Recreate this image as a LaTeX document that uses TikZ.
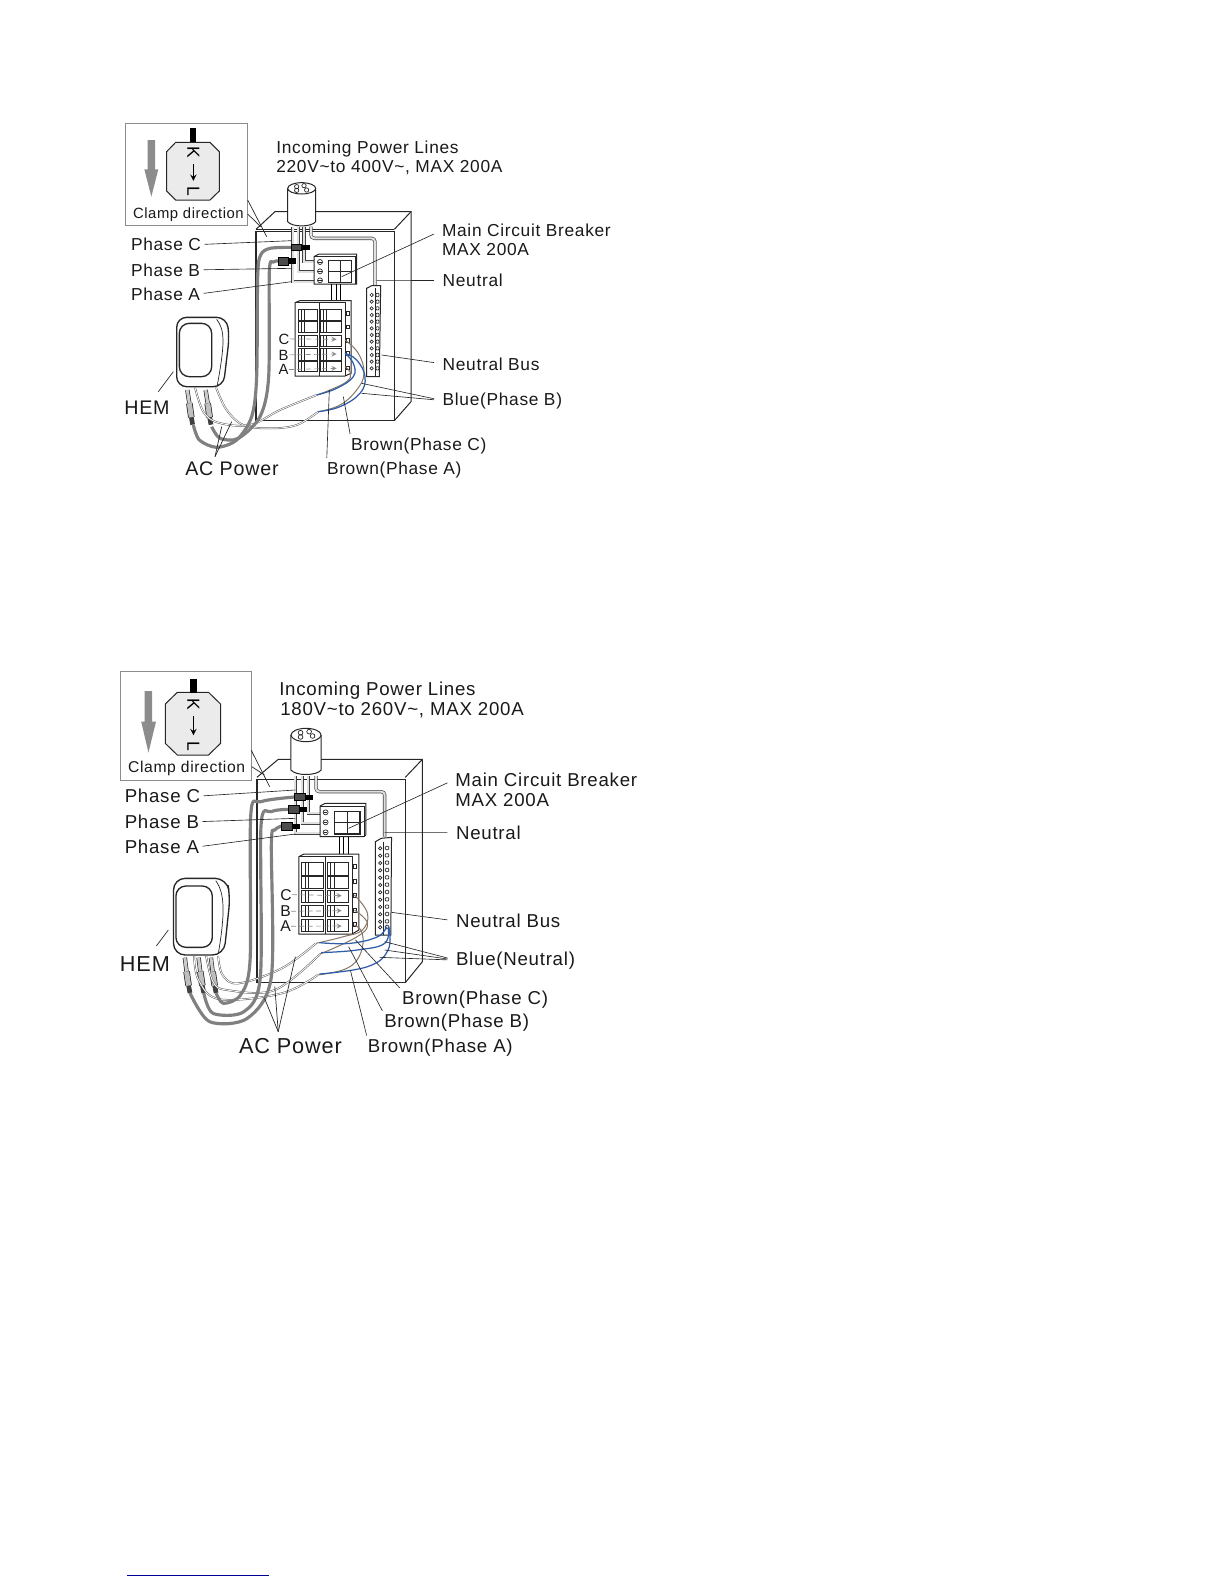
\documentclass[tikz,border=0pt]{standalone}
\usepackage{fontspec}
\setmainfont[LetterSpace=4]{Liberation Sans}
\definecolor{phaseblue}{HTML}{2F5DA8}
\definecolor{phasebrown}{HTML}{857565}
\begin{document}
\begin{tikzpicture}
    \tikzstyle{part} = [draw = black!85, line width = 0.6pt, fill = white]
    \tikzstyle{thin} = [draw = black!85, line width = 0.42pt]
    \tikzstyle{lab} = [anchor = base west, inner sep = 0, font = \fontsize{10.4}{12}\selectfont, text = black!90]
    \tikzstyle{big} = [lab, font = \fontsize{11.8}{14}\selectfont]
    \tikzstyle{small} = [lab, font = \fontsize{8.9}{11}\selectfont]
    \tikzstyle{labb} = [lab, font = \fontsize{11.2}{13}\selectfont]
    \tikzstyle{bigb} = [lab, font = \fontsize{13}{15}\selectfont]
    \tikzstyle{smallb} = [lab, font = \fontsize{9.4}{11}\selectfont]
    \tikzstyle{letter} = [rotate = -90, font = \fontsize{10.5}{12}\selectfont]
    \tikzstyle{leader} = [draw = black!85, line width = 0.38pt, shorten < = 2pt]
    \tikzstyle{leaderr} = [leader, shorten < = 5pt]
    \tikzstyle{wire} = [draw = black!75, double = black!12, line width = 0.4pt, double distance = 1.2pt]
    \tikzstyle{cable} = [draw = black!50, line width = 1.9pt, line join = round]
    \tikzstyle{sensor} = [draw = black!65, double = white, line width = 0.3pt, double distance = 0.5pt]
    \tikzstyle{blueline} = [draw = phaseblue, line width = 0.75pt]
    \tikzstyle{brownline} = [draw = phasebrown, line width = 0.6pt]
    \tikzstyle{plug} = [draw = black!85, double = black!20, line width = 0.4pt, double distance = 1.8pt]
    \tikzstyle{bead} = [draw = black!85, double = black!25, line width = 0.45pt, double distance = 3pt]
    \tikzstyle{tip} = [draw = black!75, line width = 2.8pt]
    \tikzstyle{clamp} = [draw = black, fill = black!70, line width = 0.4pt]
    \tikzstyle{dasharrow} = [draw = black!45, line width = 0.4pt, densely dashed, ->, >= stealth]
    \useasboundingbox (0,0) rectangle (734.4pt,-950.4pt);

    \begin{scope}[shift = {(66pt,-66pt)}, x = 0.2pt, y = -0.2pt]
    \draw[draw = black!45, line width = 0.5pt] (46,40) rectangle (413,346);
    \fill[black!45] (113,90)--(135,90)--(135,178)--(145,178)--(124,260)--(103,178)--(113,178)--cycle;
    \draw[part, fill = black!8] (170,125)--(197,97)--(300,97)--(328,125)--(328,243)--(300,270)--(197,270)--(170,243)--cycle;
    \fill[black] (241,54) rectangle (258,97);
    \node[letter](topK) at (250,128){K};
    \node[letter](topL) at (250,245){L};
    \draw[line width = 0.7pt, ->, >= stealth] (topK.east)--(topL.west);
    \node[small](topclamp) at (68,325){Clamp direction};
    \coordinate (topin1) at (413,270);
    \coordinate (topin2) at (470,380);
    \coordinate (topin3) at (413,312);
    \coordinate (topin4) at (452,350);
    \draw[thin] (topin1)--(topin2);
    \draw[thin] (topin3)--(topin4);

    \draw[part, fill = none] (438,358)--(495,305)--(903,305)--(903,875)--(853,932);
    \draw[part] (853,358)--(903,305);
    \draw[part, fill = none, line width = 0.8pt] (438,365) rectangle (853,932);
    \draw[thin] (438,358)--(853,358);
    \draw[part] (533,235)--(533,335) .. controls (545,352) and (605,352) .. (617,335)--(617,235);
    \draw[part] (575,235) ellipse (8.4pt and 3.4pt);
    \foreach \hx/\hy in {560/230,582/227,560/241,590/240} {
        \draw[thin] (\hx,\hy) circle (1.3pt);
    }

    \draw[wire] (548,350)--(548,515)--(612,515);
    \draw[wire] (565,350)--(565,485)--(612,485);
    \draw[wire] (582,350)--(582,455)--(612,455);
    \draw[wire, rounded corners = 2pt] (603,350)--(603,385)--(795,385)--(795,528);

    \draw[part] (612,440)--(627,432)--(740,432)--(740,522)--(612,522)--cycle;
    \draw[thin] (612,440)--(735,440)--(735,522);
    \draw[part, line width = 0.7pt] (655,452) rectangle (725,517);
    \draw[thin] (690,452)--(690,517);
    \draw[thin] (655,485)--(725,485);
    \foreach \sy in {456,484,511} {
        \draw[thin] (630,\sy) circle (1.5pt);
        \draw[thin] (625,\sy)--(635,\sy);
    }
    \draw[line width = 0.6pt] (665,522)--(665,578) (678,522)--(678,578) (692,522)--(692,578);

    \draw[part] (555,578)--(570,572)--(723,572)--(723,790)--(705,798)--(555,798)--cycle;
    \draw[thin] (555,578)--(705,578)--(705,798);
    \draw[thin] (627,578)--(627,798);
    \foreach \yt/\yb in {598/632,635/668,675/708,715/750,755/785} {
        \draw[thin] (565,\yt) rectangle (622,\yb);
        \draw[thin] (632,\yt) rectangle (695,\yb);
        \draw[thin] (573,\yt)--(573,\yb) (583,\yt)--(583,\yb);
        \draw[thin] (640,\yt)--(640,\yb) (650,\yt)--(650,\yb);
    }
    \foreach \ty in {605,645,685,725,768} {
        \draw[thin] (708,\ty) rectangle +(9,11);
    }

    \draw[part] (770,535)--(785,527)--(812,527)--(808,800)--(770,800)--cycle;
    \draw[thin] (795,535)--(795,800);
    \foreach \by in {555,575,595,615,635,655,675,695,715,735,755,775} {
        \draw[thin] (785,\by) circle (1pt);
        \draw[thin, rounded corners = 0.5pt] (798,{\by-5}) rectangle +(9,10);
    }

    \draw[part, line width = 0.8pt, rounded corners = 6pt] (200,622)--(350,622)--(358,680)--(340,830)--(200,830)--cycle;
    \draw[part, line width = 0.8pt, rounded corners = 6pt] (208,640)--(305,640)--(305,800)--(208,800)--cycle;
    \draw[thin] (320,628) .. controls (345,660) and (345,700) .. (322,825);
    \foreach \px/\py in {232/840,287/840} {
        \draw[plug] (\px,\py)--++(6,40);
        \draw[bead] (\px,\py) ++(6,40)--++(6,42);
        \draw[tip] (\px,\py) ++(12,82)--++(4,22);
    }

    \draw[sensor] plot[smooth, tension = 0.6] coordinates {(318,832) (350,900) (400,945) (480,955) (560,945) (625,905)};
    \draw[sensor] plot[smooth, tension = 0.6] coordinates {(255,832) (280,905) (325,938) (420,945) (510,900) (620,855)};
    \draw[brownline] plot[smooth, tension = 0.7] coordinates {(705,690) (745,730) (762,790) (740,840) (690,885) (625,905)};
    \draw[brownline] plot[smooth, tension = 0.7] coordinates {(705,770) (722,790) (710,815) (660,840) (620,855)};
    \draw[blueline] plot[smooth, tension = 0.7] coordinates {(620,855) (680,835) (730,800) (730,760) (705,730)};
    \draw[blueline] plot[smooth, tension = 0.7] coordinates {(625,905) (690,890) (750,850) (765,800) (740,750) (705,730)};
    \draw[cable] plot[smooth, tension = 0.5] coordinates {(545,412) (480,415) (452,435) (443,500) (440,800) (425,920) (380,990) (320,1012) (268,990) (250,945)};
    \draw[cable] plot[smooth, tension = 0.5] coordinates {(505,453) (490,456) (478,485) (476,800) (450,920) (385,985) (330,985) (305,950)};
    \draw[clamp] (545,402) rectangle (575,422);
    \draw[clamp, fill = black] (575,405) rectangle (597,418);
    \draw[clamp] (505,442) rectangle (535,465);
    \draw[clamp, fill = black] (535,446) rectangle (555,460);

    \node[lab](topinc) at (498,130){Incoming Power Lines};
    \node[lab](topvolt) at (498,188){220V\textasciitilde to 400V\textasciitilde, MAX 200A};
    \node[lab](topmcb) at (995,380){Main Circuit Breaker};
    \node[lab](topmax) at (995,437){MAX 200A};
    \node[lab](topneu) at (997,530){Neutral};
    \node[lab](topbus) at (997,780){Neutral Bus};
    \node[lab](topblue) at (997,885){Blue(Phase B)};
    \node[lab](topbrc) at (722,1020){Brown(Phase C)};
    \node[lab](topbra) at (650,1092){Brown(Phase A)};
    \node[lab](topphc) at (62,422){Phase C};
    \node[lab](topphb) at (62,498){Phase B};
    \node[lab](toppha) at (62,570){Phase A};
    \node[big](tophem) at (42,912){HEM};
    \node[big](topac) at (225,1097){AC Power};
    \node[small](toplc) at (505,702){C};
    \node[small](toplb) at (505,750){B};
    \node[small](topla) at (505,794){A};

    \coordinate (tophc) at (545,392);
    \coordinate (tophb) at (545,475);
    \coordinate (topha) at (545,515);
    \coordinate (topm) at (695,500);
    \coordinate (topn) at (800,512);
    \coordinate (topnb) at (815,735);
    \coordinate (topb1) at (755,820);
    \coordinate (topb2) at (755,850);
    \coordinate (topc) at (700,860);
    \coordinate (topa) at (658,840);
    \coordinate (topac0) at (315,1040);
    \coordinate (topac1) at (365,935);
    \coordinate (topac2) at (335,950);
    \coordinate (toph0) at (145,845);
    \coordinate (toph) at (190,785);
    \coordinate (toplc2) at (680,688);
    \coordinate (toplb2) at (680,732);
    \coordinate (topla2) at (680,775);
    \draw[leader] (topphc.east)--(tophc);
    \draw[leader] (topphb.east)--(tophb);
    \draw[leader] (toppha.east)--(topha);
    \draw[leaderr] (topmcb.west)--(topm);
    \draw[leaderr] (topneu.west)--(topn);
    \draw[leaderr] (topbus.west)--(topnb);
    \draw[leaderr] (topblue.west)--(topb1);
    \draw[leaderr] (topblue.west)--(topb2);
    \draw[leader] (topbrc.north west)--(topc);
    \draw[leader] (topbra.north west)--(topa);
    \draw[thin] (topac0)--(topac1);
    \draw[thin] (topac0)--(topac2);
    \draw[thin] (toph0)--(toph);
    \draw[dasharrow] (toplc.east)--(toplc2);
    \draw[dasharrow] (toplb.east)--(toplb2);
    \draw[dasharrow] (topla.east)--(topla2);
    \end{scope}

    \begin{scope}[shift = {(66pt,-396pt)}, x = 0.206pt, y = -0.2pt]
    \draw[draw = black!45, line width = 0.5pt] (30,35) rectangle (411,361);
    \fill[black!45] (101,93)--(123,93)--(123,185)--(134,185)--(112,278)--(91,185)--(101,185)--cycle;
    \draw[part, fill = black!8] (161,132)--(196,97)--(287,97)--(322,132)--(322,250)--(287,285)--(196,285)--(161,250)--cycle;
    \fill[black] (232,57) rectangle (253,100);
    \node[letter](botK) at (243,132){K};
    \node[letter](botL) at (243,258){L};
    \draw[line width = 0.7pt, ->, >= stealth] (botK.east)--(botL.west);
    \node[smallb](botclamp) at (52,336){Clamp direction};
    \coordinate (botin1) at (411,270);
    \coordinate (botin2) at (465,380);
    \coordinate (botin3) at (413,320);
    \coordinate (botin4) at (450,345);
    \draw[thin] (botin1)--(botin2);
    \draw[thin] (botin3)--(botin4);

    \draw[part, fill = none] (428,352)--(490,298)--(910,298)--(910,905)--(860,968);
    \draw[part] (860,352)--(910,298);
    \draw[part, fill = none, line width = 0.8pt] (428,358) rectangle (860,968);
    \draw[part] (527,225)--(527,330) .. controls (540,348) and (602,348) .. (615,330)--(615,225);
    \draw[part] (571,225) ellipse (9pt and 4pt);
    \foreach \hx/\hy in {555/218,580/215,555/231,590/228} {
        \draw[thin] (\hx,\hy) circle (1.4pt);
    }

    \draw[wire] (540,348)--(540,520)--(612,520);
    \draw[wire] (560,348)--(560,490)--(612,490);
    \draw[wire] (578,348)--(578,460)--(612,460);
    \draw[wire, rounded corners = 2pt] (600,348)--(600,395)--(800,395)--(800,530);

    \draw[part] (612,438)--(627,430)--(745,430)--(745,525)--(740,530)--(612,530)--cycle;
    \draw[thin] (612,438)--(740,438)--(740,530);
    \draw[part, line width = 0.7pt] (655,455) rectangle (728,522);
    \draw[thin] (692,455)--(692,522);
    \draw[thin] (655,488)--(728,488);
    \foreach \sy in {457,487,517} {
        \draw[thin] (628,\sy) circle (1.5pt);
        \draw[thin] (623,\sy)--(633,\sy);
    }
    \draw[line width = 0.6pt] (668,530)--(668,582) (681,530)--(681,582) (695,530)--(695,582);

    \draw[part] (550,590)--(565,582)--(725,582)--(725,810)--(705,822)--(550,822)--cycle;
    \draw[thin] (550,590)--(705,590)--(705,822);
    \draw[thin] (626,590)--(626,822);
    \foreach \yt/\yb in {607/645,650/685,692/727,735/770,778/815} {
        \draw[thin] (558,\yt) rectangle (620,\yb);
        \draw[thin] (633,\yt) rectangle (695,\yb);
        \draw[thin] (568,\yt)--(568,\yb) (578,\yt)--(578,\yb);
        \draw[thin] (642,\yt)--(642,\yb) (652,\yt)--(652,\yb);
    }
    \foreach \ty in {612,658,700,745,788} {
        \draw[thin] (708,\ty) rectangle +(9,12);
    }

    \draw[part] (773,545)--(790,535)--(820,532)--(818,825)--(773,825)--cycle;
    \draw[thin] (797,545)--(797,825);
    \foreach \by in {565,587,609,631,653,675,697,719,741,763,785,802} {
        \draw[thin] (787,\by) circle (1pt);
        \draw[thin, rounded corners = 0.5pt] (802,{\by-6}) rectangle +(10,10);
    }

    \draw[part, line width = 0.8pt, rounded corners = 7pt] (185,655)--(340,655)--(350,710)--(332,885)--(185,885)--cycle;
    \draw[part, line width = 0.8pt, rounded corners = 6pt] (192,678)--(298,678)--(298,862)--(192,862)--cycle;
    \draw[thin] (308,662) .. controls (335,700) and (335,760) .. (316,878);
    \foreach \px/\py in {218/893,258/893,294/893} {
        \draw[plug] (\px,\py)--++(5,42);
        \draw[bead] (\px,\py) ++(5,42)--++(6,42);
        \draw[tip] (\px,\py) ++(11,84)--++(4,22);
    }

    \draw[sensor] plot[smooth, tension = 0.6] coordinates {(315,888) (328,945) (375,970) (500,925) (600,850)};
    \draw[sensor] plot[smooth, tension = 0.6] coordinates {(280,888) (300,965) (340,990) (480,990) (612,882)};
    \draw[sensor] plot[smooth, tension = 0.6] coordinates {(245,888) (258,960) (320,1018) (500,1000) (605,945)};
    \draw[brownline] plot[smooth, tension = 0.7] coordinates {(712,705) (750,760) (735,810) (680,830) (600,850)};
    \draw[brownline] plot[smooth, tension = 0.7] coordinates {(712,750) (750,790) (720,830) (612,882)};
    \draw[brownline] plot[smooth, tension = 0.7] coordinates {(712,795) (735,820) (730,880) (690,925) (605,945)};
    \draw[blueline] plot[smooth, tension = 0.7] coordinates {(610,848) (700,850) (780,830) (805,800)};
    \draw[blueline] plot[smooth, tension = 0.7] coordinates {(615,878) (720,870) (800,850) (810,800)};
    \draw[blueline] plot[smooth, tension = 0.7] coordinates {(610,942) (750,920) (810,870) (812,800)};
    \draw[cable] plot[smooth, tension = 0.5] coordinates {(538,411) (440,425) (410,465) (408,900) (380,1005) (330,1030) (309,999)};
    \draw[cable] plot[smooth, tension = 0.5] coordinates {(520,448) (470,455) (440,495) (438,950) (390,1055) (300,1060) (273,999)};
    \draw[cable] plot[smooth, tension = 0.5] coordinates {(500,498) (480,510) (470,550) (470,950) (400,1075) (290,1085) (233,999)};
    \draw[clamp] (538,400) rectangle (570,422);
    \draw[clamp, fill = black] (570,405) rectangle (590,418);
    \draw[clamp] (520,437) rectangle (552,460);
    \draw[clamp, fill = black] (552,442) rectangle (572,455);
    \draw[clamp] (500,487) rectangle (532,510);
    \draw[clamp, fill = black] (532,492) rectangle (552,505);

    \node[labb](botinc) at (492,105){Incoming Power Lines};
    \node[labb](botvolt) at (495,165){180V\textasciitilde to 260V\textasciitilde, MAX 200A};
    \node[labb](botmcb) at (1005,378){Main Circuit Breaker};
    \node[labb](botmax) at (1005,438){MAX 200A};
    \node[labb](botneu) at (1007,537){Neutral};
    \node[labb](botbus) at (1007,803){Neutral Bus};
    \node[labb](botblue) at (1007,915){Blue(Neutral)};
    \node[labb](botbrc) at (850,1032){Brown(Phase C)};
    \node[labb](botbrb) at (798,1103){Brown(Phase B)};
    \node[labb](botbra) at (750,1178){Brown(Phase A)};
    \node[labb](botphc) at (42,428){Phase C};
    \node[labb](botphb) at (42,505){Phase B};
    \node[labb](botpha) at (42,580){Phase A};
    \node[bigb](bothem) at (28,935){HEM};
    \node[bigb](botac) at (375,1180){AC Power};
    \node[smallb](botlc) at (495,720){C};
    \node[smallb](botlb) at (495,770){B};
    \node[smallb](botla) at (495,815){A};

    \coordinate (bothc) at (540,390);
    \coordinate (bothb) at (540,475);
    \coordinate (botha) at (540,522);
    \coordinate (botm) at (695,505);
    \coordinate (botn) at (800,517);
    \coordinate (botnb) at (820,757);
    \coordinate (botb1) at (800,845);
    \coordinate (botb2) at (800,870);
    \coordinate (botb3) at (785,892);
    \coordinate (botc) at (715,840);
    \coordinate (botb) at (695,860);
    \coordinate (bota) at (700,930);
    \coordinate (botac0) at (490,1115);
    \coordinate (botac1) at (450,1015);
    \coordinate (botac2) at (480,980);
    \coordinate (botac3) at (540,890);
    \coordinate (both0) at (135,858);
    \coordinate (both) at (170,810);
    \coordinate (botlc2) at (675,707);
    \coordinate (botlb2) at (675,752);
    \coordinate (botla2) at (675,798);
    \draw[leader] (botphc.east)--(bothc);
    \draw[leader] (botphb.east)--(bothb);
    \draw[leader] (botpha.east)--(botha);
    \draw[leaderr] (botmcb.west)--(botm);
    \draw[leaderr] (botneu.west)--(botn);
    \draw[leaderr] (botbus.west)--(botnb);
    \draw[leaderr] (botblue.west)--(botb1);
    \draw[leaderr] (botblue.west)--(botb2);
    \draw[leaderr] (botblue.west)--(botb3);
    \draw[leader] (botbrc.north west)--(botc);
    \draw[leader] (botbrb.north west)--(botb);
    \draw[leader] (botbra.north west)--(bota);
    \draw[thin] (botac0)--(botac1);
    \draw[thin] (botac0)--(botac2);
    \draw[thin] (botac0)--(botac3);
    \draw[thin] (both0)--(both);
    \draw[dasharrow] (botlc.east)--(botlc2);
    \draw[dasharrow] (botlb.east)--(botlb2);
    \draw[dasharrow] (botla.east)--(botla2);
    \end{scope}

    \coordinate (linkleft) at (76.2pt,-945pt);
    \coordinate (linkright) at (161.4pt,-945pt);
    \draw[draw = blue!60!black, line width = 0.6pt] (linkleft)--(linkright);
\end{tikzpicture}
\end{document}
